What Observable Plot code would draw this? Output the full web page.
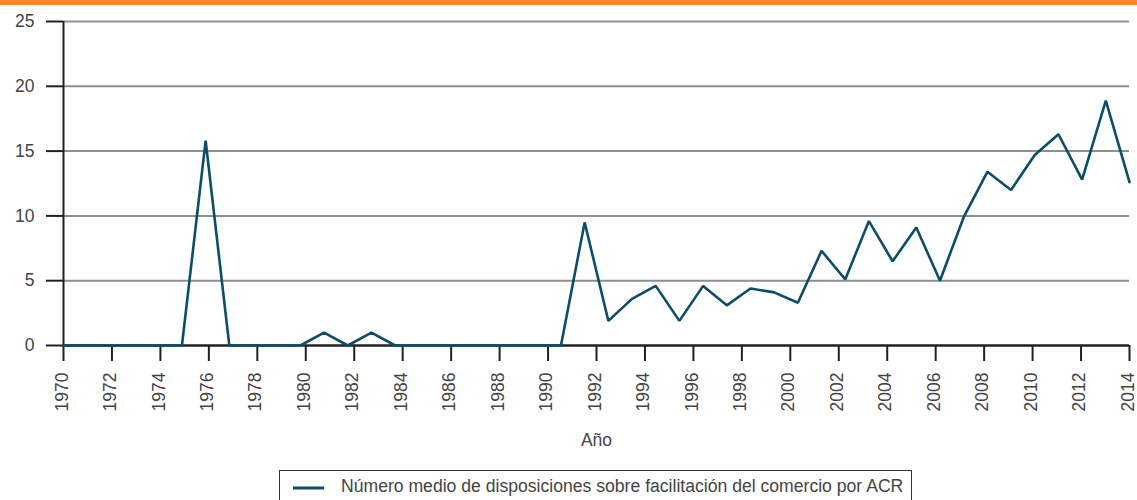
<!DOCTYPE html>
<html>
<head>
<meta charset="utf-8">
<script src="https://cdn.jsdelivr.net/npm/d3@7"></script>
<script src="https://cdn.jsdelivr.net/npm/@observablehq/plot@0.6"></script>
<style>
  html, body { margin: 0; padding: 0; background: #fff; overflow: hidden; }
  body { width: 1137px; height: 500px; position: relative; font-family: "Liberation Sans", Arial, sans-serif; }
  #bar { position: absolute; left: 0; top: 0; width: 1137px; height: 5px; background: #f58634; }
  #chart { position: absolute; left: 0; top: 0; }
  #legend { position: absolute; left: 279px; top: 470px; width: 633px; height: 40px; border: 1px solid #333; box-sizing: border-box; display: flex; align-items: flex-start; padding-top: 5px; }
  #legend svg { margin-left: 13px; margin-right: 17px; margin-top: 10px; }
  #legend span { font-size: 17.6px; color: #444; }
</style>
</head>
<body>
<div id="chart"></div>
<div id="bar"></div>
<div id="legend"></div>
<script>
// Tick labels shown on the x axis (every second year)
const tickLabels = ["1970","1972","1974","1976","1978","1980","1982","1984","1986","1988","1990","1992","1994","1996","1998","2000","2002","2004","2006","2008","2010","2012","2014"];
// Series values, 46 evenly spaced points across the axis
const values = [0,0,0,0,0,0,15.8,0,0,0,0,1,0,1,0,0,0,0,0,0,0,0,9.5,1.9,3.6,4.6,1.9,4.6,3.1,4.4,4.1,3.3,7.3,5.1,9.6,6.5,9.1,5.0,9.9,13.4,12.0,14.7,16.3,12.8,18.9,12.6];
const yTicks = [0,5,10,15,20,25];
const seriesName = "Número medio de disposiciones sobre facilitación del comercio por ACR";
const axisTitle = "Año";

const n = values.length - 1;
const data = values.map((v, i) => ({i, v}));
const tickPos = tickLabels.map((_, k) => k * n / (tickLabels.length - 1));
const labelAt = new Map(tickPos.map((p, k) => [p, tickLabels[k]]));

const lineColor = "#0c4d69";
const textColor = "#444444";

const plot = Plot.plot({
  width: 1137,
  height: 460,
  marginLeft: 63,
  marginRight: 8,
  marginTop: 21,
  marginBottom: 115,
  style: { fontFamily: "Liberation Sans, Arial, sans-serif", fontSize: "17.5px", color: textColor, background: "transparent" },
  x: { domain: [0, n] },
  y: { domain: [0, 25] },
  marks: [
    Plot.ruleY(yTicks.filter(d => d > 0), { stroke: "#8e8e90", strokeWidth: 2 }),
    Plot.ruleX([0], { y1: 0, y2: 25, stroke: "#231f20", strokeWidth: 2 }),
    Plot.axisY({ ticks: yTicks, tickSize: 17, tickPadding: 12, stroke: "#231f20", strokeWidth: 2, fill: textColor, label: null, strokeOpacity: 1, fontSize: 17.5 }),
    Plot.axisX({ ticks: tickPos, tickSize: 16, tickFormat: () => "", stroke: "#231f20", strokeWidth: 2, strokeOpacity: 1, label: null }),
    Plot.axisX({ ticks: tickPos, tickFormat: d => labelAt.get(d), tickRotate: -90, tickSize: 16, tickPadding: 11, fill: textColor, fontSize: 17.5, dx: -1.5, strokeOpacity: 0,
      label: null }),
    Plot.axisX({ ticks: [], label: axisTitle, labelAnchor: "center", labelArrow: "none", labelOffset: 100, fontSize: 17.5, fill: textColor }),
    Plot.ruleY([0], { stroke: "#231f20", strokeWidth: 2.5 }),
    Plot.line(data, { x: "i", y: "v", stroke: lineColor, strokeWidth: 2.6, strokeLinejoin: "miter" })
  ]
});
document.getElementById("chart").appendChild(plot);

const leg = document.getElementById("legend");
leg.innerHTML = `<svg width="31" height="4"><line x1="0" y1="2" x2="31" y2="2" stroke="${lineColor}" stroke-width="3"/></svg><span>${seriesName}</span>`;
</script>
</body>
</html>
